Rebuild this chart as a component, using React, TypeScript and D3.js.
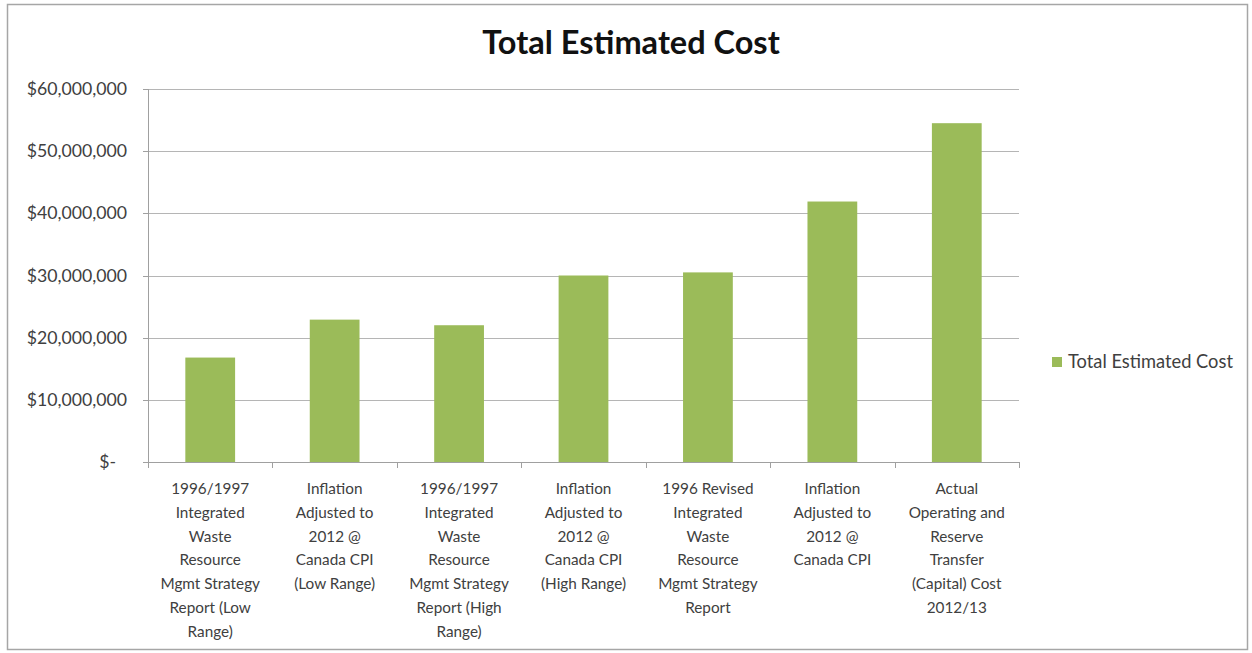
import React from "react";
import * as d3 from "d3";

const categories = [
  "1996/1997 Integrated Waste Resource Mgmt Strategy Report (Low Range)",
  "Inflation Adjusted to 2012 @ Canada CPI (Low Range)",
  "1996/1997 Integrated Waste Resource Mgmt Strategy Report (High Range)",
  "Inflation Adjusted to 2012 @ Canada CPI (High Range)",
  "1996 Revised Integrated Waste Resource Mgmt Strategy Report",
  "Inflation Adjusted to 2012 @ Canada CPI",
  "Actual Operating and Reserve Transfer (Capital) Cost 2012/13",
];

const categoryLines = [
  ["1996/1997", "Integrated", "Waste", "Resource", "Mgmt Strategy", "Report (Low", "Range)"],
  ["Inflation", "Adjusted to", "2012 @", "Canada CPI", "(Low Range)"],
  ["1996/1997", "Integrated", "Waste", "Resource", "Mgmt Strategy", "Report (High", "Range)"],
  ["Inflation", "Adjusted to", "2012 @", "Canada CPI", "(High Range)"],
  ["1996 Revised", "Integrated", "Waste", "Resource", "Mgmt Strategy", "Report"],
  ["Inflation", "Adjusted to", "2012 @", "Canada CPI"],
  ["Actual", "Operating and", "Reserve", "Transfer", "(Capital) Cost", "2012/13"],
];

const totalEstimatedCost = [16800000, 22900000, 22000000, 30000000, 30500000, 41900000, 54500000];

const yTicks = [0, 10000000, 20000000, 30000000, 40000000, 50000000, 60000000];

const seriesName = "Total Estimated Cost";
const title = "Total Estimated Cost";

const W = 1252;
const H = 653;
const FONT = "Lato, 'Open Sans', sans-serif";

export default function App() {
  const x = d3
    .scaleBand<string>()
    .domain(categories)
    .range([148, 1019])
    .paddingInner(0.6)
    .paddingOuter(0.3);
  const y = d3.scaleLinear().domain([0, 60000000]).range([462, 89]);
  const step = x.step();
  const x0 = 148;
  const fmt = (v: number) => (v === 0 ? "$-" : "$" + d3.format(",")(v));

  return (
    <svg
      width={W}
      height={H}
      style={{ position: "absolute", left: 0, top: 0, background: "#fff" }}
      fontFamily={FONT}
    >
      <rect x={0} y={0} width={W} height={H} fill="#fff" />
      <rect x={7.5} y={4.5} width={1240} height={645} fill="#fff" stroke="#a6a6a6" strokeWidth={1.5} />

      <text x={631} y={54} textAnchor="middle" fontSize={32.5} fontWeight={700} fill="#111">
        {title}
      </text>

      {yTicks.map((t) => (
        <g key={t}>
          <line x1={x0} x2={1019} y1={Math.round(y(t)) + 0.5} y2={Math.round(y(t)) + 0.5} stroke="#b5b5b5" strokeWidth={1.2} />
          <line x1={143} x2={x0} y1={Math.round(y(t)) + 0.5} y2={Math.round(y(t)) + 0.5} stroke="#a0a0a0" />
          <text
            x={t === 0 ? 116 : 127}
            y={y(t) + 6}
            textAnchor="end"
            fontSize={17.7}
            fill="#404040"
          >
            {fmt(t)}
          </text>
        </g>
      ))}

      <line x1={x0 + 0.5} x2={x0 + 0.5} y1={89} y2={462} stroke="#a0a0a0" />

      {categories.map((c, i) => (
        <rect
          key={c}
          x={x(c)!}
          y={y(totalEstimatedCost[i])}
          width={x.bandwidth()}
          height={y(0) - y(totalEstimatedCost[i])}
          fill="#9BBB59"
        />
      ))}

      <line x1={x0} x2={1019} y1={462.5} y2={462.5} stroke="#a0a0a0" />
      {d3.range(categories.length + 1).map((i) => (
        <line
          key={i}
          x1={Math.round(x0 + i * step) + 0.5}
          x2={Math.round(x0 + i * step) + 0.5}
          y1={462}
          y2={468}
          stroke="#a0a0a0"
        />
      ))}

      {categories.map((c, i) => (
        <text key={c} textAnchor="middle" fontSize={15.3} fill="#404040">
          {categoryLines[i].map((ln, j) => (
            <tspan key={j} x={x(c)! + x.bandwidth() / 2} y={494 + j * 23.8}>
              {ln}
            </tspan>
          ))}
        </text>
      ))}

      <rect x={1052} y={357} width={10} height={10} fill="#9BBB59" />
      <text x={1068} y={368} fontSize={18.3} fill="#404040">
        {seriesName}
      </text>
    </svg>
  );
}
